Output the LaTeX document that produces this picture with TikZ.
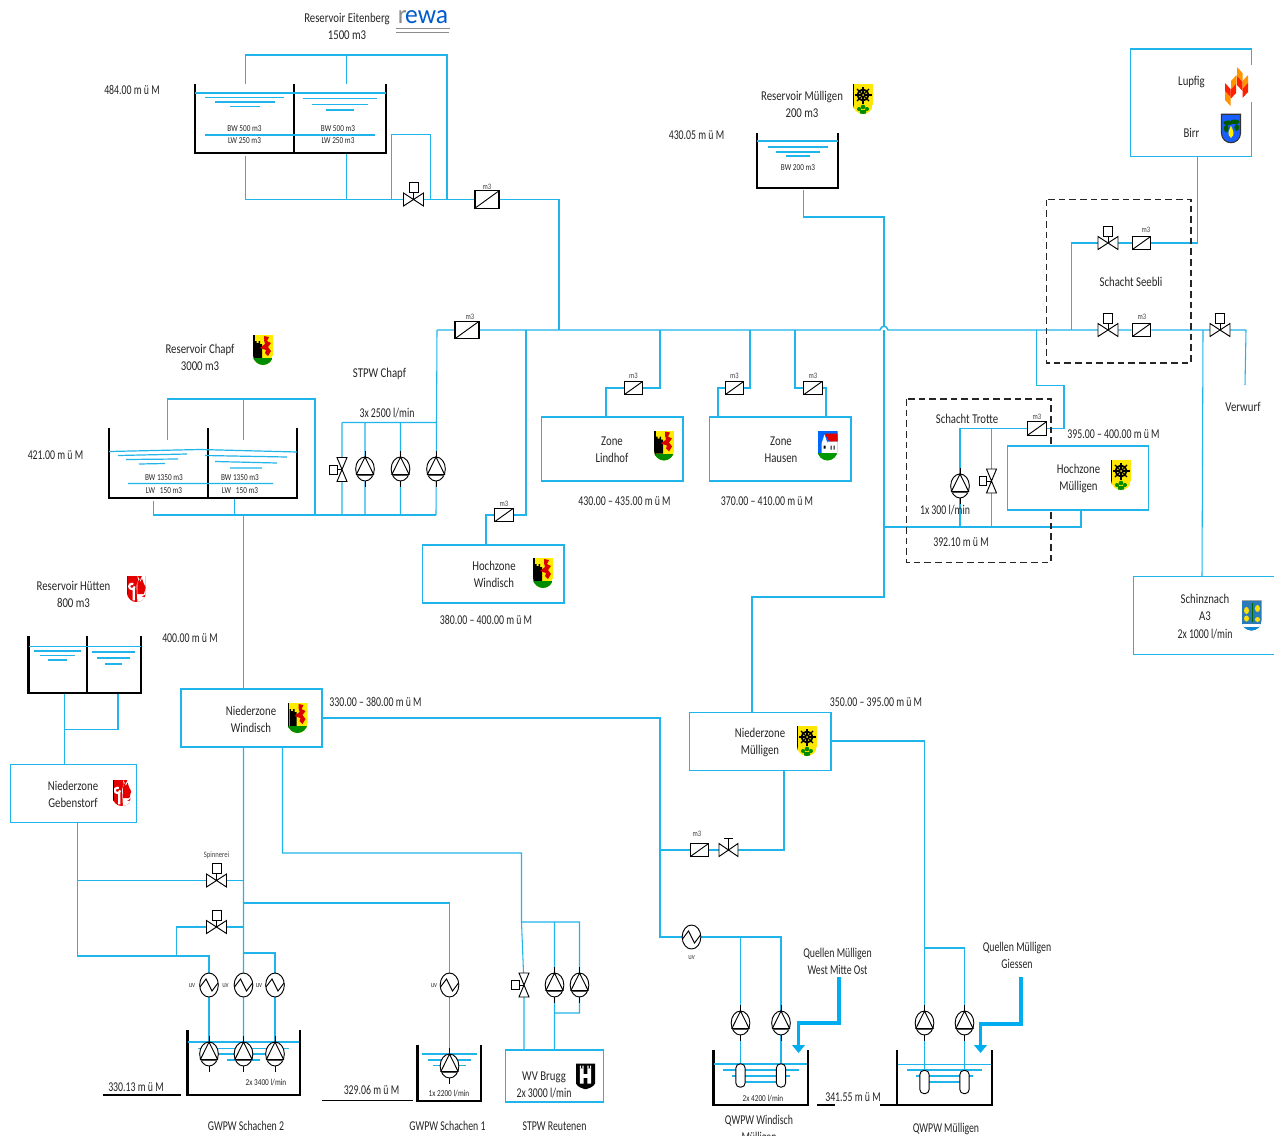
\documentclass[tikz,border=0pt]{standalone}
\usepackage{fontspec}
\setmainfont{Carlito}[FakeStretch=0.8]
\newfontfamily\numfam{Carlito}[FakeStretch=0.73]
\usetikzlibrary{shapes.geometric,arrows.meta}
\definecolor{pipeblue}{HTML}{1FB4EA}
\definecolor{thickblue}{HTML}{00AEEF}
\newcommand\lbl{\fontsize{10.1}{12.75}\selectfont}
\newcommand\numf{\numfam\fontsize{10.1}{12.75}\selectfont}
\newcommand\sml{\fontsize{6.8}{7}\selectfont}
\newcommand\tin{\fontsize{6.2}{6.5}\selectfont}
\pgfdeclarelayer{pipes}
\pgfsetlayers{pipes,main}
\tikzset{
 pipe/.style={draw=pipeblue,line width=0.8pt,line join=miter},
 mainpipe/.style={draw=pipeblue,line width=1.1pt},
 water/.style={draw=pipeblue,line width=0.9pt},
 sym/.style={draw=black,line width=0.7pt,fill=white},
 wall/.style={draw=black,line width=1.6pt,line join=miter},
 thin wall/.style={draw=black,line width=1.1pt},
 dashbox/.style={draw=black!85,line width=0.8pt,dash pattern=on 5pt off 3pt},
 zone/.style={draw=pipeblue,fill=white,line width=0.9pt,rectangle,inner sep=0pt},
 meterbig/.style={draw=black,fill=white,line width=0.8pt,rectangle,inner sep=0pt,minimum width=18pt,minimum height=13pt,
   path picture={\draw[line width=0.7pt] (path picture bounding box.south west)--(path picture bounding box.north east);}},
 metersm/.style={meterbig,minimum width=14pt,minimum height=10pt},
 pumpnode/.style={ellipse,draw=black,fill=white,line width=0.7pt,inner sep=0pt,minimum width=14pt,minimum height=18pt},
 txt/.style={font=\lbl,align=center,inner sep=0pt,text=black!85},
 ntxt/.style={font=\numf,align=center,inner sep=0pt,text=black!85},
 stxt/.style={font=\sml,align=center,inner sep=0pt,text=black!85},
 ttxt/.style={font=\tin,align=center,inner sep=0pt,text=black!75},
 feed/.style={draw=thickblue,line width=2.6pt,line join=miter,-{Triangle[width=9.5pt,length=6pt]}},
}
\newcommand\C[3]{\coordinate (#1) at (#2,#3);}
\newcommand\lab[4]{\node[txt] (#1) at (#2,#3) {#4};}
\newcommand\nlab[4]{\node[ntxt] (#1) at (#2,#3) {#4};}
\newcommand\slab[4]{\node[stxt] (#1) at (#2,#3) {#4};}
\newcommand\tlab[4]{\node[ttxt] (#1) at (#2,#3) {#4};}
\newcommand\zbox[5]{\node[zone,minimum width={(#4-#2)*0.75pt},minimum height={(#5-#3)*0.75pt}] (#1) at ({(#2+#4)/2},{(#3+#5)/2}) {};}
\newcommand\pump[3]{\node[pumpnode] (#1) at (#2,#3) {};
 \begin{scope}[shift={(#2,#3)}]
  \draw[sym,fill=none] (0,-12)--(8.6,5.5)--(-8.6,5.5)--cycle;
  \draw[draw=black!70,line width=1pt] (-8.4,6.6)--(8.4,6.6);
  \draw[sym,fill=none] (0,-12)--(0,-18) (0,12)--(0,18);
 \end{scope}}
\newcommand\uv[3]{\node[pumpnode] (#1) at (#2,#3) {};
 \begin{scope}[shift={(#2,#3)}]
  \draw[sym,fill=none] (-9,2)--(-3,-6)--(3,6)--(9,-2);
 \end{scope}}
\newcommand\valveH[3]{\coordinate (#1) at (#2,#3);
 \begin{scope}[shift={(#2,#3)}]
  \draw[sym] (-10,-6.5)--(10,6.5)--(10,-6.5)--(-10,6.5)--cycle;
  \draw[sym] (0,0)--(0,-7) (-4.5,-17) rectangle (4.5,-7);
 \end{scope}}
\newcommand\valveT[3]{\coordinate (#1) at (#2,#3);
 \begin{scope}[shift={(#2,#3)}]
  \draw[sym] (-9.5,-6.5)--(9.5,6.5)--(9.5,-6.5)--(-9.5,6.5)--cycle;
  \draw[sym] (0,0)--(0,-12) (-4.5,-12)--(4.5,-12);
 \end{scope}}
\newcommand\valveV[3]{\coordinate (#1) at (#2,#3);
 \begin{scope}[shift={(#2,#3)}]
  \draw[sym] (-5,-12)--(5,12)--(-5,12)--(5,-12)--cycle;
  \draw[sym] (0,0)--(-5,0) (-12.5,-4.5) rectangle (-5,4.5);
 \end{scope}}
\newcommand\capsule[3]{\node[draw=black,fill=white,line width=0.7pt,rounded corners=3.2pt,inner sep=0pt,minimum width=7pt,minimum height=17.5pt] (#1) at (#2,#3) {};}
\newcommand\shpath{(-10,-15)--(10,-15)--(10,5) .. controls (10,11) and (5,15) .. (0,15) .. controls (-5,15) and (-10,11) .. (-10,5)--cycle}
\newcommand\armsChapf[2]{\begin{scope}[shift={(#1,#2)}]
 \clip \shpath;
 \fill[yellow!95!orange] (-10,-15) rectangle (10,15);
 \fill[black] (-10,-15) rectangle (-8.5,15);
 \fill[black] (-8,-9)--(-6.5,-9)--(-6.5,-7)--(-4.5,-7)--(-4.5,-9)--(-3,-9)--(-3,-6)--(-1,-6)--(-1,8)--(-8,8)--cycle;
 \fill[red!85!black] (1,-14)--(6,-13)--(4,-9)--(8,-7)--(5,-3)--(8,1)--(5,6)--(2,3)--(3,0)--(-3,-2)--(2,-6)--(1,-10)--cycle;
 \fill[green!55!black] (-10,8) rectangle (10,15);
 \end{scope}}
\newcommand\armsMuell[2]{\begin{scope}[shift={(#1,#2)}]
 \clip \shpath;
 \fill[yellow!90!orange] (-10,-15) rectangle (10,15);
 \fill[black] (-10,-15) rectangle (-9,15);
 \draw[black,line width=1.4pt] (0,-4) circle[radius=5.5];
 \fill[black] (0,-4) circle[radius=1.8];
 \foreach \a in {0,45,...,315}{\draw[black,line width=0.9pt] (0,-4)--++(\a:8.5);}
 \fill[yellow!90!orange] (0,-4) circle[radius=1];
 \fill[green!55!black] (-4,10) circle[radius=2] (4,10) circle[radius=2] (0,8) circle[radius=2.3] (-3,11) rectangle (3,15);
 \end{scope}}
\newcommand\armsHausen[2]{\begin{scope}[shift={(#1,#2)}]
 \clip \shpath;
 \fill[blue!60!cyan] (-10,-15) rectangle (10,8);
 \fill[red!90!black] (-3,-12)--(10,-12)--(10,-4)--(2,-4)--cycle;
 \fill[white] (-6,-2)--(-3,-11)--(0,-2)--(0,8)--(-6,8)--cycle (0,-4) rectangle (10,8);
 \fill[black] (-4,0) rectangle (-2,3) (3,0) rectangle (4,4) (6,0) rectangle (7,4);
 \fill[green!60!black] (-10,7) rectangle (10,15);
 \end{scope}}
\newcommand\armsHuett[2]{\begin{scope}[shift={(#1,#2)},xscale=0.92,yscale=0.87]
 \clip \shpath;
 \fill[red!90!black] (-10,-15) rectangle (10,15);
 \fill[white] (1,-15)--(2,-10)--(0,-4)--(1,15)--(10,15)--(10,9)--(5,9)--(10,6)--(10,-15)--(6,-15)--(4,-10)--cycle;
 \fill[red!90!black] (1,-6)--(3,-12)--(4,-8)--(6,-12)--(8,-6)--(10,-2)--(8,6)--(1,6)--cycle;
 \draw[white,line width=1.6pt] (-3,13)--(-3,0) (-2,-3) arc[start angle=0,end angle=300,radius=3];
 \fill[black] (-10,-15) rectangle (-9,15);
 \end{scope}}
\newcommand\armsBirr[2]{\begin{scope}[shift={(#1,#2)},scale=0.95]
 \fill[blue!70!cyan!90!white,draw=black!80,line width=0.8pt] \shpath;
 \fill[green!35!black] (-3,-6) ellipse[x radius=5,y radius=2.5] (4,-7) ellipse[x radius=5,y radius=2.5] (-5,0) ellipse[x radius=2.5,y radius=4] (6,-1) ellipse[x radius=2.5,y radius=3.5];
 \fill[yellow] (0,-3) .. controls (2,2) and (5,6) .. (0,10) .. controls (-5,6) and (-2,2) .. (0,-3);
 \end{scope}}
\newcommand\armsSchinz[2]{\begin{scope}[shift={(#1,#2)}]
 \clip \shpath;
 \fill[cyan!65!blue!85!black] (-10,-15) rectangle (10,15);
 \fill[white] (-10,8) rectangle (10,11);
 \fill[cyan!70!blue] (-10,11) rectangle (10,15);
 \draw[green!40!black,line width=0.8pt] (1,-13)--(1,6);
 \fill[yellow!80!orange] (-5,-5) ellipse[x radius=2.5,y radius=3.5] (6,-7) ellipse[x radius=2.5,y radius=3.5] (-5,3) ellipse[x radius=2.5,y radius=3] (6,4) ellipse[x radius=2.5,y radius=2.5];
 \draw[black,line width=0.5pt] (-10,-15)--(10,-15);
 \end{scope}}
\newcommand\armsBrugg[2]{\begin{scope}[shift={(#1,#2)},scale=0.95]
 \fill[black] (-10,-13) rectangle (10,8) (-10,8) -- (10,8) .. controls (8,12) and (3,13) .. (0,14) .. controls (-3,13) and (-8,12) .. (-10,8);
 \fill[white] (-6,-8) rectangle (-2,8) (2,-8) rectangle (6,8) (-2,-2) rectangle (2,2);
 \fill[white] (-6,-11) rectangle (-4.8,-8) (-3.2,-11) rectangle (-2,-8) (2,-11) rectangle (3.2,-8) (4.8,-11) rectangle (6,-8);
 \end{scope}}
\newcommand\leafL[3]{\fill[#3] (#1,#2)--({#1+5.5},{#2+6})--({#1+5.5},{#2+15})--(#1,{#2+9})--cycle;}
\newcommand\leafR[3]{\fill[#3] (#1,#2)--({#1-5.5},{#2+6})--({#1-5.5},{#2+15})--(#1,{#2+9})--cycle;}
\newcommand\armsLupfig{
 \leafL{1237}{67}{orange!85!yellow}
 \leafR{1236.5}{75}{orange!85!yellow}
 \leafL{1237}{76}{red!75!orange}
 \leafR{1248}{75}{orange!85!yellow}
 \leafR{1248}{83}{red!75!orange}
 \leafR{1236}{84}{red!75!orange}
 \leafL{1225}{83}{red!75!orange}
 \leafL{1225}{91}{orange!85!yellow}}
\begin{document}
\begin{tikzpicture}[x=0.75pt,y=-0.75pt]
\clip (0,0) rectangle (1274,1135);
\begin{pgfonlayer}{pipes}
\fill[white] (0,0) rectangle (1274,1135);
\end{pgfonlayer}
% dashed shaft frames
\draw[dashbox] (1046.5,199.5) rectangle (1191,363);
\draw[dashbox] (906.5,399) rectangle (1051,562.5);
% boxes
\zbox{bLup}{1130.5}{49}{1251.5}{156.5}
\zbox{bSch}{1133.5}{576.5}{1290}{654.5}
\zbox{bHM}{1007.5}{446}{1148.5}{510}
\zbox{bLin}{541.5}{417}{683}{481}
\zbox{bHau}{709.5}{417}{851}{481}
\zbox{bHW}{422.5}{545}{564}{603}
\zbox{bNW}{181}{689}{322}{747}
\zbox{bNM}{689.5}{712.5}{831}{770.5}
\zbox{bGeb}{10.5}{764.5}{136.5}{822.5}
\zbox{bBru}{505.5}{1050}{603.5}{1102}
% white gap in the Lupfig frame behind the emblem
\fill[white] (1247,65) rectangle (1253,102);
% tanks : Eitenberg
\draw[wall] (195,84)--(195,153)--(386,153)--(386,84) (294,84)--(294,153);
\draw[water] (195,93)--(386,93) (205,97.5)--(284,97.5) (215,102)--(275,102) (230,106.5)--(260,106.5)
 (303,98.5)--(377,98.5) (312,104.5)--(368,104.5) (326,110)--(354,110) (205,135)--(375,135);
\slab{tE1}{244.5}{129}{BW 500 m3}\slab{tE2}{338}{129}{BW 500 m3}
\slab{tE3}{244.5}{141}{LW 250 m3}\slab{tE4}{338}{141}{LW 250 m3}
% Muelligen reservoir
\draw[wall] (757,133)--(757,188)--(838,188)--(838,133);
\draw[water] (757,141)--(838,141) (768,147)--(828,147) (776,152)--(820,152) (786,156)--(810,156);
\slab{tM1}{798}{168}{BW 200 m3}
% Chapf
\draw[wall] (109,428)--(109,498)--(297,498)--(297,428) (208,428)--(208,498);
\draw[water] (109,451.5)--(200,449.5)--(297,452) (118,455.5)--(187,454) (126,459.5)--(178,459) (139,464)--(165,463.5)
 (205,455.5)--(287,457) (215,461.5)--(277,463) (230,468)--(262,468) (128,483.5)--(273,483.5);
\slab{tC1}{164}{478}{BW 1350 m3}\slab{tC2}{240}{478}{BW 1350 m3}
\slab{tC3}{164}{490.5}{LW \ \ 150 m3}\slab{tC4}{240}{490.5}{LW \ \ 150 m3}
% Huetten
\draw[wall] (28.5,636)--(28.5,693)--(141,693)--(141,636) (87,636)--(87,693);
\draw[water] (28.5,646.5)--(141,646.5) (34,651)--(81,651) (40,655.5)--(75,655.5) (48,660)--(67,660)
 (92,652)--(135,652) (97,658)--(130,658) (105,664)--(122,664);
% Schachen 2
\draw[wall] (187.5,1030)--(187.5,1095)--(300,1095)--(300,1030);
\draw[water] (188,1042)--(299,1042) (198,1048.5)--(289,1048.5) (214,1054)--(272,1054) (227,1060)--(260,1060);
\slab{tS2}{266}{1083}{2x 3400 l/min}
\draw[thin wall] (103,1095)--(181,1095);
% Schachen 1
\draw[wall] (417.5,1045)--(417.5,1101)--(481,1101)--(481,1045);
\draw[water] (422,1054)--(477,1054) (428,1060)--(471,1060) (433,1065.5)--(466,1065.5);
\slab{tS1}{449}{1094}{1x 2200 l/min}
\draw[thin wall] (322,1100.5)--(413,1100.5);
% QWPW Windisch
\draw[wall] (713.5,1050)--(713.5,1105)--(808,1105)--(808,1050);
\draw[water] (714,1064)--(807,1064) (723,1070)--(799,1070) (732,1076)--(790,1076) (740,1082)--(780,1082);
\slab{tQ1}{763}{1099}{2x 4200 l/min}
% QWPW Muelligen
\draw[wall] (897,1050)--(897,1105)--(992,1105)--(992,1050);
\draw[water] (898,1064.5)--(991,1064.5) (907,1070)--(982,1070) (916,1076)--(973,1076) (929,1082)--(960,1082);
\draw[thin wall] (817,1105)--(835,1105) (880,1105)--(897,1105);
% meters
\node[meterbig] (mE) at (487,199.5) {};
\node[meterbig] (mZ) at (467,330) {};
\node[metersm] (mHW) at (504,515) {};
\node[metersm] (mLin) at (633.5,388) {};
\node[metersm] (mHa1) at (734.5,388) {};
\node[metersm] (mHa2) at (813,388) {};
\node[metersm] (mTro) at (1037,428.5) {};
\node[metersm] (mSe1) at (1141.5,243) {};
\node[metersm] (mSe2) at (1141.5,330) {};
\node[metersm] (mNM) at (699.5,850) {};
\tlab{lm1}{487}{187}{m3}\tlab{lm2}{470}{317}{m3}\tlab{lm3}{504}{503.5}{m3}\tlab{lm4}{633.5}{376}{m3}
\tlab{lm5}{734.5}{376}{m3}\tlab{lm6}{813}{376}{m3}\tlab{lm7}{1037}{417}{m3}\tlab{lm8}{1146}{229.5}{m3}
\tlab{lm9}{1142}{316.5}{m3}\tlab{lm10}{697}{834}{m3}
% pumps
\pump{pC1}{365}{469}\pump{pC2}{400.5}{469}\pump{pC3}{436}{469}
\pump{pTro}{960}{486}
\pump{pS1}{209}{1054}\pump{pS2}{243.5}{1054}\pump{pS3}{275}{1054}
\pump{pS4}{449.5}{1066}
\pump{pR1}{554.5}{985}\pump{pR2}{579.5}{985}
\pump{pQ1}{740.5}{1023}\pump{pQ2}{781}{1023}\pump{pQ3}{924.5}{1023}\pump{pQ4}{964.5}{1023}
% uv
\uv{uS1}{209}{985}\uv{uS2}{243.5}{985}\uv{uS3}{275}{985}\uv{uS4}{449.5}{985}\uv{uQ}{691.5}{937}
\tlab{lu1}{192}{986}{uv}\tlab{lu2}{225.5}{986}{uv}\tlab{lu3}{259}{986}{uv}\tlab{lu4}{434}{986}{uv}\tlab{lu5}{691.5}{958}{uv}
% valves
\valveH{vE}{413.5}{199.5}
\valveV{vC}{342}{469.5}
\valveV{vTro}{991.5}{481}
\valveV{vR}{524}{985}
\valveH{vSe1}{1108}{243}
\valveH{vSe2}{1108}{330}
\valveH{vVer}{1220}{330}
\valveH{vSp}{216.5}{880.5}
\valveH{vS2}{216.5}{927}
\valveT{vNM}{728.5}{850}
% capsules
\capsule{cQ1}{740.5}{1075.5}\capsule{cQ2}{781}{1075.5}\capsule{cQ3}{924.5}{1082}\capsule{cQ4}{964.5}{1082}
% junction points
\C{e1}{245.5}{84}\C{e2}{245.5}{55}\C{e3}{346.5}{84}\C{e4}{346.5}{55}\C{e5}{447}{55}\C{e6}{447}{199.5}
\C{e7}{245.5}{156}\C{e8}{245.5}{199.5}\C{e9}{346.5}{153}\C{e10}{346.5}{199.5}\C{e11}{391.5}{199.5}\C{e12}{391.5}{134.5}
\C{e13}{430.5}{134.5}\C{e14}{430.5}{199.5}\C{e15}{559}{199.5}\C{e16}{559}{330}
\C{a0}{437}{330}\C{a1}{880}{330}\C{a2}{888}{330}\C{a3}{1246}{330}\C{a4}{1245}{385}
\C{c1}{167.5}{440}\C{c2}{167.5}{399}\C{c3}{243.5}{440}\C{c4}{243.5}{399}\C{c5}{315}{399}\C{c6}{315}{515}
\C{c7}{153.5}{501}\C{c8}{153.5}{515}\C{c9}{234.5}{498}\C{c10}{234.5}{515}\C{c11}{243.5}{515}\C{c12}{243.5}{689}
\C{c13}{436}{515}\C{c14}{342}{422.5}\C{c15}{436}{422.5}\C{c16}{342}{515}\C{c17}{365}{422.5}\C{c18}{400.5}{422.5}\C{c19}{365}{515}\C{c20}{400.5}{515}
\C{w1}{526}{330}\C{w2}{526}{515}\C{w3}{486}{515}\C{w4}{486}{545}
\C{z1}{660}{330}\C{z2}{660}{388}\C{z3}{606}{388}\C{z4}{606}{417}
\C{z5}{750}{330}\C{z6}{750}{388}\C{z7}{718}{388}\C{z8}{718}{417}
\C{z9}{795}{330}\C{z10}{795}{388}\C{z11}{826}{388}\C{z12}{826}{417}
\C{r1}{803.5}{190}\C{r2}{803.5}{217}\C{r3}{884}{217}\C{r4}{884}{326}\C{r5}{884}{330}\C{r6}{884}{597}\C{r7}{752}{597}\C{r8}{752}{712.5}
\C{s1}{1197.5}{156.5}\C{s2}{1197.5}{243}\C{s3}{1071.5}{243}\C{s4}{1071.5}{330}
\C{s5}{1203}{330}\C{s6}{1202}{576.5}
\C{t1}{1036.5}{330}\C{t2}{1036.5}{385.5}\C{t3}{1064}{385.5}\C{t4}{1064}{428.5}\C{t5}{960}{428.5}\C{t6}{960}{527}
\C{t7}{991.5}{428.5}\C{t8}{991.5}{527}\C{t9}{884}{527}\C{t10}{1081}{527}\C{t11}{1081}{510}
\C{n1}{322}{718}\C{n2}{660}{718}\C{n3}{660}{937}\C{n4}{660}{850}\C{n5}{784}{850}\C{n6}{784}{770.5}
\C{n7}{740.5}{937}\C{n8}{781}{937}
\C{n9}{831}{741}\C{n10}{924.5}{741}\C{n11}{924.5}{948}\C{n12}{964.5}{948}
\C{g1}{243.5}{747}\C{g2}{282.5}{747}\C{g3}{282.5}{853}\C{g4}{521.5}{853}\C{g5}{521.5}{922}\C{g6}{579.5}{922}\C{g7}{554.5}{922}
\C{g8}{554.5}{1050}\C{g9}{554.5}{1013}\C{g10}{579.5}{1013}\C{g11}{524}{1050}
\C{h1}{64.5}{693}\C{h2}{64.5}{764.5}\C{h3}{118}{693}\C{h4}{118}{729.5}\C{h5}{64.5}{729.5}
\C{k1}{77.5}{822.5}\C{k2}{77.5}{956}\C{k3}{209}{956}\C{k4}{77.5}{880.5}\C{k5}{243.5}{880.5}
\C{k6}{243.5}{927}\C{k7}{176.5}{927}\C{k8}{176.5}{956}\C{k9}{243.5}{953}\C{k10}{275}{953}
\C{k11}{243.5}{903}\C{k12}{449.5}{903}
\C{q1}{839}{977}\C{q2}{839}{1023}\C{q3}{798.5}{1023}\C{q4}{798.5}{1053}
\C{q5}{1021}{977}\C{q6}{1021}{1024}\C{q7}{980.5}{1024}\C{q8}{980.5}{1053}
% piping, below every symbol
\begin{pgfonlayer}{pipes}
\draw[pipe] (e1)--(e2)--(e5)--(e6) (e3)--(e4);
\draw[pipe] (e7)--(e8)--(vE)--(mE)--(e15)--(e16) (e9)--(e10) (e11)--(e12)--(e13)--(e14);
\draw[mainpipe] (a0)--(mZ)--(a1) .. controls (881,325) and (887,325) .. (a2)--(vSe2)--(mSe2)--(vVer)--(a3);
\draw[pipe] (a3)--(a4);
\draw[pipe] (c1)--(c2)--(c5)--(c6) (c3)--(c4);
\draw[pipe] (c7)--(c8)--(c13) (c9)--(c10) (c11)--(c12);
\draw[pipe] (a0)--(c13) (c14)--(c15) (c14)--(vC)--(c16) (c17)--(pC1)--(c19) (c18)--(pC2)--(c20);
\draw[pipe] (w1)--(w2)--(mHW)--(w3)--(w4);
\draw[pipe] (z1)--(z2)--(mLin)--(z3)--(z4);
\draw[pipe] (z5)--(z6)--(mHa1)--(z7)--(z8);
\draw[pipe] (z9)--(z10)--(mHa2)--(z11)--(z12);
\draw[pipe] (r1)--(r2)--(r3)--(r4) (r5)--(r6)--(r7)--(r8);
\draw[mainpipe] (s1)--(s2)--(mSe1)--(vSe1)--(s3)--(s4);
\draw[pipe] (s5)--(s6);
\draw[pipe] (t1)--(t2)--(t3)--(t4)--(mTro)--(t5)--(pTro)--(t6) (t7)--(vTro)--(t8) (t9)--(t10)--(t11);
\draw[pipe] (n1)--(n2)--(n3)--(uQ)--(n8)--(pQ2)--(cQ2) (n7)--(pQ1)--(cQ1);
\draw[pipe] (n4)--(mNM)--(vNM)--(n5)--(n6);
\draw[pipe] (n9)--(n10)--(pQ3)--(cQ3) (n11)--(n12)--(pQ4)--(cQ4);
\draw[pipe] (g1)--(pS2) (g2)--(g3)--(g4)--(g5)--(g6)--(pR2) (g5)--(vR)--(g11) (g7)--(pR1)--(g8) (g9)--(g10)--(pR2);
\draw[pipe] (h1)--(h2) (h3)--(h4)--(h5);
\draw[pipe] (k1)--(k2)--(k3)--(uS1)--(pS1) (k4)--(vSp)--(k5) (k6)--(vS2)--(k7)--(k8);
\draw[pipe] (k9)--(k10)--(uS3)--(pS3) (k11)--(k12)--(uS4)--(pS4) (uS2)--(pS2);
\end{pgfonlayer}
\draw[feed] (q1)--(q2)--(q3)--(q4);
\draw[feed] (q5)--(q6)--(q7)--(q8);
% labels
\lab{L1}{347}{26.5}{Reservoir Eitenberg\\1500 m3}
\nlab{L2}{132}{90}{484.00 m ü M}
\lab{L3}{802}{104}{Reservoir Mülligen\\200 m3}
\nlab{L4}{696.5}{135}{430.05 m ü M}
\lab{L5}{200}{357.5}{Reservoir Chapf\\3000 m3}
\lab{L6}{379.5}{374}{STPW Chapf}
\nlab{L7}{387}{413}{3x 2500 l/min}
\nlab{L8}{55.5}{455}{421.00 m ü M}
\lab{L9}{73.5}{594}{Reservoir Hütten\\800 m3}
\nlab{L10}{190}{638}{400.00 m ü M}
\lab{L11}{494}{574.5}{Hochzone\\Windisch}
\nlab{L12}{486}{620}{380.00 – 400.00 m ü M}
\lab{L13}{612}{449.5}{Zone\\Lindhof}
\nlab{L14}{624.5}{501}{430.00 – 435.00 m ü M}
\lab{L15}{781}{449.5}{Zone\\Hausen}
\nlab{L16}{767}{501}{370.00 – 410.00 m ü M}
\lab{L17}{967}{419}{Schacht Trotte}
\nlab{L18}{945}{510}{1x 300 l/min}
\nlab{L19}{961}{542}{392.10 m ü M}
\nlab{L20}{1113.5}{434}{395.00 – 400.00 m ü M}
\lab{L21}{1078.5}{478.5}{Hochzone\\Mülligen}
\lab{L22}{1131}{282}{Schacht Seebli}
\lab{L23}{1191.5}{82}{Lupfig}
\lab{L24}{1191.5}{133}{Birr}
\lab{L25}{1243}{407}{Verwurf}
\node[txt] (L26) at (1205,607.5) {Schinznach\\A3};
\nlab{L26b}{1205}{634}{2x 1000 l/min}
\lab{L27}{251}{719.5}{Niederzone\\Windisch}
\nlab{L28}{375.5}{702}{330.00 – 380.00 m ü M}
\nlab{L29}{876}{702}{350.00 – 395.00 m ü M}
\lab{L30}{760}{742.5}{Niederzone\\Mülligen}
\lab{L31}{73}{794.5}{Niederzone\\Gebenstorf}
\tlab{L32}{216.5}{855}{Spinnerei}
\nlab{L33}{136}{1087}{330.13 m ü M}
\nlab{L34}{371.5}{1090}{329.06 m ü M}
\nlab{L35}{246}{1126}{GWPW Schachen 2}
\nlab{L36}{447.5}{1126}{GWPW Schachen 1}
\nlab{L37}{554.5}{1126}{STPW Reutenen}
\lab{L38}{544}{1077}{WV Brugg}
\nlab{L38b}{544}{1093}{2x 3000 l/min}
\nlab{L39}{837.5}{961.5}{Quellen Mülligen\\West Mitte Ost}
\nlab{L40}{1017}{955.5}{Quellen Mülligen\\Giessen}
\nlab{L41}{759}{1129}{QWPW Windisch\\Mülligen}
\nlab{L42}{946}{1129}{QWPW Mülligen}
\nlab{L43}{853}{1097}{341.55 m ü M}
% emblems
\armsChapf{263}{350}\armsChapf{297.5}{718}\armsChapf{543}{573}\armsChapf{664}{445.5}
\armsMuell{863}{99}\armsMuell{1121}{475}\armsMuell{807}{741}
\armsHausen{827.5}{445.5}
\armsHuett{136.5}{589}\armsHuett{122}{793}
\armsBirr{1231}{128.5}\armsLupfig
\armsSchinz{1251.5}{615.5}\armsBrugg{585.5}{1076}
% rewa logo
\node[inner sep=0pt,xscale=1.2,font=\fontsize{20}{20}\selectfont] (logo) at (423,17) {\textcolor{black!45}{r}\kern-1pt\textcolor{blue!55!cyan!80!black}{ewa}};
\draw[black!45,line width=0.6pt] (396,28.5)--(450,28.5);
\draw[black!45,line width=0.6pt] (396,32)--(449,32);
\end{tikzpicture}
\end{document}
